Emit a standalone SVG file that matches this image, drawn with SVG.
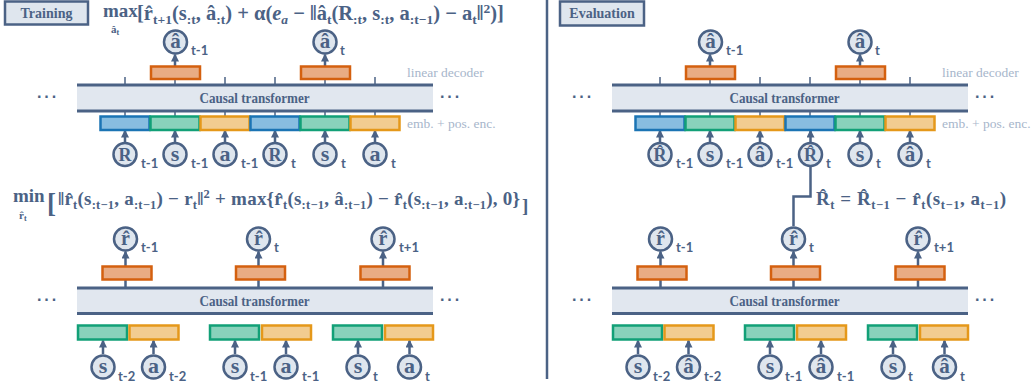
<svg xmlns="http://www.w3.org/2000/svg" width="1034" height="389" viewBox="0 0 1034 389">
<defs>
<marker id="ah" markerUnits="userSpaceOnUse" markerWidth="8" markerHeight="8" refX="7" refY="4" orient="auto"><path d="M0,0 L8,4 L0,8 z" fill="#4b6285"/></marker>
<style>
.ln{stroke:#4b6285;stroke-width:2.5;fill:none}
.ar{stroke:#4b6285;stroke-width:2.5;fill:none;marker-end:url(#ah)}
.thin{stroke:#4b6285;stroke-width:1.5}
.cir{fill:#dfe6ee;stroke:#4b6285;stroke-width:2.5}
.v{font-family:"Liberation Serif","DejaVu Serif",serif;font-weight:bold;fill:#4b6285;text-anchor:middle}
.sub{font-family:Lato,"Liberation Sans",sans-serif;font-weight:bold;font-size:13px;fill:#4b6285}
.dec{fill:#e9ac84;stroke:#d4600f;stroke-width:2.5}
.eR{fill:#88bde0;stroke:#1b74b4;stroke-width:2.5}
.eS{fill:#89d2bb;stroke:#12a077;stroke-width:2.5}
.eA{fill:#f2cc90;stroke:#e5981a;stroke-width:2.5}
.tf{fill:#e1e7ef}
.tfl{stroke:#4b6285;stroke-width:3}
.tft{font-family:"Liberation Serif","DejaVu Serif",serif;font-weight:bold;font-size:14.5px;fill:#4b6285;text-anchor:middle}
.note{font-family:"Liberation Serif","DejaVu Serif",serif;font-size:13.5px;fill:#a7b6cb}
.dots{font-family:"Liberation Sans",sans-serif;font-weight:bold;font-size:16px;fill:#4b6285;letter-spacing:2px}
.m{font-family:"Liberation Serif","DejaVu Serif",serif;font-weight:bold;font-size:19px;fill:#4b6285}
.ms{font-size:12.5px}
.mb{font-size:20.5px}
.mbs{font-size:13.5px}
.tag{fill:#dfe6ee;stroke:#4b6285;stroke-width:2.5}
.tagt{font-family:"Liberation Serif","DejaVu Serif",serif;font-weight:bold;font-size:14px;fill:#4b6285;text-anchor:middle}
</style>
</defs>

<line id="divider" x1="547" y1="0" x2="547" y2="379" class="ln" stroke-width="2"/>

<!-- connectors -->
<g id="connectors">
  <g class="thin">
    <line x1="125" y1="77" x2="125" y2="117"/><line x1="175" y1="77" x2="175" y2="117"/><line x1="225" y1="77" x2="225" y2="117"/>
    <line x1="275" y1="77" x2="275" y2="117"/><line x1="325" y1="77" x2="325" y2="117"/><line x1="375" y1="77" x2="375" y2="117"/>
    <line x1="660" y1="77" x2="660" y2="117"/><line x1="710" y1="77" x2="710" y2="117"/><line x1="760" y1="77" x2="760" y2="117"/>
    <line x1="810" y1="77" x2="810" y2="117"/><line x1="860" y1="77" x2="860" y2="117"/><line x1="910" y1="77" x2="910" y2="117"/>
  </g>
  <line class="ar" x1="175" y1="66" x2="175" y2="54.5"/>
  <line class="ar" x1="325" y1="66" x2="325" y2="54.5"/>
  <line class="ar" x1="710" y1="66" x2="710" y2="54.5"/>
  <line class="ar" x1="860" y1="66" x2="860" y2="54.5"/>
  <line class="ar" x1="125" y1="142" x2="125" y2="130.5"/><line class="ar" x1="175" y1="142" x2="175" y2="130.5"/><line class="ar" x1="225" y1="142" x2="225" y2="130.5"/>
  <line class="ar" x1="275" y1="142" x2="275" y2="130.5"/><line class="ar" x1="325" y1="142" x2="325" y2="130.5"/><line class="ar" x1="375" y1="142" x2="375" y2="130.5"/>
  <line class="ar" x1="660" y1="142" x2="660" y2="130.5"/><line class="ar" x1="710" y1="142" x2="710" y2="130.5"/><line class="ar" x1="760" y1="142" x2="760" y2="130.5"/>
  <line class="ar" x1="860" y1="142" x2="860" y2="130.5"/><line class="ar" x1="910" y1="142" x2="910" y2="130.5"/>
  <path class="ar" d="M793.5,226 V196.5 H810.5 V130.5"/>
  <g class="ln">
    <line x1="125.5" y1="279" x2="125.5" y2="288"/><line x1="258.5" y1="279" x2="258.5" y2="288"/><line x1="383" y1="279" x2="383" y2="288"/>
    <line x1="660.5" y1="279" x2="660.5" y2="288"/><line x1="793.5" y1="279" x2="793.5" y2="288"/><line x1="918" y1="279" x2="918" y2="288"/>
  </g>
  <line class="ar" x1="125.5" y1="266" x2="125.5" y2="251.5"/><line class="ar" x1="258.5" y1="266" x2="258.5" y2="251.5"/><line class="ar" x1="383" y1="266" x2="383" y2="251.5"/>
  <line class="ar" x1="660.5" y1="266" x2="660.5" y2="251.5"/><line class="ar" x1="793.5" y1="266" x2="793.5" y2="251.5"/><line class="ar" x1="918" y1="266" x2="918" y2="251.5"/>
  <line class="ar" x1="103" y1="354" x2="103" y2="340.5"/><line class="ar" x1="153.5" y1="354" x2="153.5" y2="340.5"/>
  <line class="ar" x1="235" y1="354" x2="235" y2="340.5"/><line class="ar" x1="286" y1="354" x2="286" y2="340.5"/>
  <line class="ar" x1="358" y1="354" x2="358" y2="340.5"/><line class="ar" x1="409.5" y1="354" x2="409.5" y2="340.5"/>
  <line class="ar" x1="638" y1="354" x2="638" y2="340.5"/><line class="ar" x1="688.5" y1="354" x2="688.5" y2="340.5"/>
  <line class="ar" x1="770" y1="354" x2="770" y2="340.5"/><line class="ar" x1="821" y1="354" x2="821" y2="340.5"/>
  <line class="ar" x1="893" y1="354" x2="893" y2="340.5"/><line class="ar" x1="944.5" y1="354" x2="944.5" y2="340.5"/>
</g>

<g id="tag-training"><rect class="tag" x="5" y="1.5" width="83" height="23"/><text class="tagt" x="46.5" y="18">Training</text></g>
<g id="tag-evaluation"><rect class="tag" x="560" y="1.5" width="84" height="24"/><text class="tagt" x="602" y="18">Evaluation</text></g>

<g id="tf-left-top"><rect class="tf" x="77" y="85" width="356" height="26"/><line class="tfl" x1="77" y1="85" x2="433" y2="85"/><line class="tfl" x1="77" y1="111" x2="433" y2="111"/><text class="tft" x="254.5" y="103" textLength="110" lengthAdjust="spacingAndGlyphs">Causal transformer</text></g>
<g id="tf-right-top"><rect class="tf" x="612" y="85" width="356" height="26"/><line class="tfl" x1="612" y1="85" x2="968" y2="85"/><line class="tfl" x1="612" y1="111" x2="968" y2="111"/><text class="tft" x="784.5" y="103" textLength="110" lengthAdjust="spacingAndGlyphs">Causal transformer</text></g>
<g id="tf-left-bot"><rect class="tf" x="77" y="288" width="356" height="26"/><line class="tfl" x1="77" y1="288" x2="433" y2="288"/><line class="tfl" x1="77" y1="313.5" x2="433" y2="313.5"/><text class="tft" x="254.5" y="306" textLength="110" lengthAdjust="spacingAndGlyphs">Causal transformer</text></g>
<g id="tf-right-bot"><rect class="tf" x="612" y="288" width="356" height="26"/><line class="tfl" x1="612" y1="288" x2="968" y2="288"/><line class="tfl" x1="612" y1="313.5" x2="968" y2="313.5"/><text class="tft" x="784.5" y="306" textLength="110" lengthAdjust="spacingAndGlyphs">Causal transformer</text></g>

<g id="dots">
<text class="dots" x="37" y="102">···</text><text class="dots" x="440" y="102">···</text>
<text class="dots" x="572" y="102">···</text><text class="dots" x="975" y="102">···</text>
<text class="dots" x="37" y="305">···</text><text class="dots" x="440" y="305">···</text>
<text class="dots" x="572" y="305">···</text><text class="dots" x="975" y="305">···</text>
</g>

<g id="labels">
<text class="note" x="407" y="77">linear decoder</text>
<text class="note" x="942" y="77">linear decoder</text>
<text class="note" x="407" y="128">emb. + pos. enc.</text>
<text class="note" x="942" y="128">emb. + pos. enc.</text>
</g>

<g id="decoders">
<rect class="dec" x="151" y="66.5" width="49" height="12.5"/><rect class="dec" x="301" y="66.5" width="49" height="12.5"/>
<rect class="dec" x="686" y="66.5" width="49" height="12.5"/><rect class="dec" x="836" y="66.5" width="49" height="12.5"/>
<rect class="dec" x="102.5" y="266.5" width="49" height="13"/><rect class="dec" x="236" y="266.5" width="49" height="13"/><rect class="dec" x="360.5" y="266.5" width="49" height="13"/>
<rect class="dec" x="637.5" y="266.5" width="49" height="13"/><rect class="dec" x="771" y="266.5" width="49" height="13"/><rect class="dec" x="895.5" y="266.5" width="49" height="13"/>
</g>

<g id="emb-top">
<rect class="eR" x="100.5" y="116.5" width="49" height="13.5"/><rect class="eS" x="150.5" y="116.5" width="49" height="13.5"/><rect class="eA" x="200.5" y="116.5" width="49" height="13.5"/>
<rect class="eR" x="250.5" y="116.5" width="49" height="13.5"/><rect class="eS" x="300.5" y="116.5" width="49" height="13.5"/><rect class="eA" x="350.5" y="116.5" width="49" height="13.5"/>
<rect class="eR" x="635.5" y="116.5" width="49" height="13.5"/><rect class="eS" x="685.5" y="116.5" width="49" height="13.5"/><rect class="eA" x="735.5" y="116.5" width="49" height="13.5"/>
<rect class="eR" x="785.5" y="116.5" width="49" height="13.5"/><rect class="eS" x="835.5" y="116.5" width="49" height="13.5"/><rect class="eA" x="885.5" y="116.5" width="49" height="13.5"/>
</g>
<g id="emb-bot">
<rect class="eS" x="78" y="325.5" width="49" height="14"/><rect class="eA" x="129.5" y="325.5" width="49" height="14"/>
<rect class="eS" x="210" y="325.5" width="49" height="14"/><rect class="eA" x="262" y="325.5" width="49" height="14"/>
<rect class="eS" x="333" y="325.5" width="49" height="14"/><rect class="eA" x="385" y="325.5" width="48" height="14"/>
<rect class="eS" x="613" y="325.5" width="49" height="14"/><rect class="eA" x="664.5" y="325.5" width="49" height="14"/>
<rect class="eS" x="745" y="325.5" width="49" height="14"/><rect class="eA" x="797" y="325.5" width="49" height="14"/>
<rect class="eS" x="868" y="325.5" width="49" height="14"/><rect class="eA" x="920" y="325.5" width="48" height="14"/>
</g>

<g id="out-ahat-tm1-L"><circle class="cir" cx="175.5" cy="42" r="11.5"/><text class="v" x="175.5" y="48" font-size="21">â</text><text class="sub" x="191" y="55">t-1</text></g>
<g id="out-ahat-t-L"><circle class="cir" cx="325" cy="42" r="11.5"/><text class="v" x="325" y="48" font-size="21">â</text><text class="sub" x="340" y="55">t</text></g>
<g id="out-ahat-tm1-R"><circle class="cir" cx="710.5" cy="42" r="11.5"/><text class="v" x="710.5" y="48" font-size="21">â</text><text class="sub" x="726" y="55">t-1</text></g>
<g id="out-ahat-t-R"><circle class="cir" cx="860" cy="42" r="11.5"/><text class="v" x="860" y="48" font-size="21">â</text><text class="sub" x="875" y="55">t</text></g>

<g id="in-R-tm1-L"><circle class="cir" cx="125" cy="154.5" r="11.5"/><text class="v" x="125" y="160.5" font-size="18">R</text><text class="sub" x="141" y="168">t-1</text></g>
<g id="in-s-tm1-L"><circle class="cir" cx="175" cy="154.5" r="11.5"/><text class="v" x="175" y="160.5" font-size="22">s</text><text class="sub" x="191" y="168">t-1</text></g>
<g id="in-a-tm1-L"><circle class="cir" cx="225" cy="154.5" r="11.5"/><text class="v" x="225" y="160.5" font-size="22">a</text><text class="sub" x="241" y="168">t-1</text></g>
<g id="in-R-t-L"><circle class="cir" cx="275" cy="154.5" r="11.5"/><text class="v" x="275" y="160.5" font-size="18">R</text><text class="sub" x="291" y="168">t</text></g>
<g id="in-s-t-L"><circle class="cir" cx="325" cy="154.5" r="11.5"/><text class="v" x="325" y="160.5" font-size="22">s</text><text class="sub" x="341" y="168">t</text></g>
<g id="in-a-t-L"><circle class="cir" cx="375" cy="154.5" r="11.5"/><text class="v" x="375" y="160.5" font-size="22">a</text><text class="sub" x="391" y="168">t</text></g>

<g id="in-Rhat-tm1-R"><circle class="cir" cx="660" cy="154.5" r="11.5"/><text class="v" x="660" y="160.5" font-size="18">R̂</text><text class="sub" x="676" y="168">t-1</text></g>
<g id="in-s-tm1-R"><circle class="cir" cx="710" cy="154.5" r="11.5"/><text class="v" x="710" y="160.5" font-size="22">s</text><text class="sub" x="726" y="168">t-1</text></g>
<g id="in-ahat-tm1-R"><circle class="cir" cx="760" cy="154.5" r="11.5"/><text class="v" x="760" y="160.5" font-size="21">â</text><text class="sub" x="776" y="168">t-1</text></g>
<g id="in-Rhat-t-R"><circle class="cir" cx="810.5" cy="154.5" r="11.5"/><text class="v" x="810.5" y="160.5" font-size="18">R̂</text><text class="sub" x="826" y="168">t</text></g>
<g id="in-s-t-R"><circle class="cir" cx="860" cy="154.5" r="11.5"/><text class="v" x="860" y="160.5" font-size="22">s</text><text class="sub" x="876" y="168">t</text></g>
<g id="in-ahat-t-R"><circle class="cir" cx="910" cy="154.5" r="11.5"/><text class="v" x="910" y="160.5" font-size="21">â</text><text class="sub" x="926" y="168">t</text></g>

<g id="out-rhat-tm1-L"><circle class="cir" cx="125.5" cy="239" r="11.5"/><text class="v" x="125.5" y="245" font-size="20">r̂</text><text class="sub" x="141" y="252">t-1</text></g>
<g id="out-rhat-t-L"><circle class="cir" cx="258.5" cy="239" r="11.5"/><text class="v" x="258.5" y="245" font-size="20">r̂</text><text class="sub" x="274" y="252">t</text></g>
<g id="out-rhat-tp1-L"><circle class="cir" cx="383" cy="239" r="11.5"/><text class="v" x="383" y="245" font-size="20">r̂</text><text class="sub" x="399" y="252">t+1</text></g>
<g id="out-rhat-tm1-R"><circle class="cir" cx="660.5" cy="239" r="11.5"/><text class="v" x="660.5" y="245" font-size="20">r̂</text><text class="sub" x="676" y="252">t-1</text></g>
<g id="out-rhat-t-R"><circle class="cir" cx="793.5" cy="239" r="11.5"/><text class="v" x="793.5" y="245" font-size="20">r̂</text><text class="sub" x="809" y="252">t</text></g>
<g id="out-rhat-tp1-R"><circle class="cir" cx="918" cy="239" r="11.5"/><text class="v" x="918" y="245" font-size="20">r̂</text><text class="sub" x="934" y="252">t+1</text></g>

<g id="in-s-tm2-L"><circle class="cir" cx="103" cy="367" r="11.5"/><text class="v" x="103" y="373" font-size="22">s</text><text class="sub" x="118" y="381">t-2</text></g>
<g id="in-a-tm2-L"><circle class="cir" cx="153.5" cy="367" r="11.5"/><text class="v" x="153.5" y="373" font-size="22">a</text><text class="sub" x="169" y="381">t-2</text></g>
<g id="in-s-tm1b-L"><circle class="cir" cx="235" cy="367" r="11.5"/><text class="v" x="235" y="373" font-size="22">s</text><text class="sub" x="250" y="381">t-1</text></g>
<g id="in-a-tm1b-L"><circle class="cir" cx="286" cy="367" r="11.5"/><text class="v" x="286" y="373" font-size="22">a</text><text class="sub" x="302" y="381">t-1</text></g>
<g id="in-s-tb-L"><circle class="cir" cx="358" cy="367" r="11.5"/><text class="v" x="358" y="373" font-size="22">s</text><text class="sub" x="373" y="381">t</text></g>
<g id="in-a-tb-L"><circle class="cir" cx="409.5" cy="367" r="11.5"/><text class="v" x="409.5" y="373" font-size="22">a</text><text class="sub" x="425" y="381">t</text></g>
<g id="in-s-tm2-R"><circle class="cir" cx="638" cy="367" r="11.5"/><text class="v" x="638" y="373" font-size="22">s</text><text class="sub" x="653" y="381">t-2</text></g>
<g id="in-ahat-tm2-R"><circle class="cir" cx="688.5" cy="367" r="11.5"/><text class="v" x="688.5" y="373" font-size="21">â</text><text class="sub" x="704" y="381">t-2</text></g>
<g id="in-s-tm1b-R"><circle class="cir" cx="770" cy="367" r="11.5"/><text class="v" x="770" y="373" font-size="22">s</text><text class="sub" x="785" y="381">t-1</text></g>
<g id="in-ahat-tm1b-R"><circle class="cir" cx="821" cy="367" r="11.5"/><text class="v" x="821" y="373" font-size="21">â</text><text class="sub" x="837" y="381">t-1</text></g>
<g id="in-s-tb-R"><circle class="cir" cx="893" cy="367" r="11.5"/><text class="v" x="893" y="373" font-size="22">s</text><text class="sub" x="908" y="381">t</text></g>
<g id="in-ahat-tb-R"><circle class="cir" cx="944.5" cy="367" r="11.5"/><text class="v" x="944.5" y="373" font-size="21">â</text><text class="sub" x="960" y="381">t</text></g>

<g id="formula-top">
<text class="m" x="103" y="17" font-size="16">max<tspan x="111" y="33" font-size="11">â</tspan><tspan dy="2" font-size="8">t</tspan><tspan class="mb" x="137" y="20">[r̂</tspan><tspan class="mbs" dy="4">t+1</tspan><tspan class="mb" dy="-4">(s</tspan><tspan class="mbs" dy="4">:t</tspan><tspan class="mb" dy="-4">, â</tspan><tspan class="mbs" dy="4">:t</tspan><tspan class="mb" dy="-4">) + α(</tspan><tspan class="mb" font-style="italic">e</tspan><tspan class="mbs" font-style="italic" dy="4">a</tspan><tspan class="mb" dy="-4"> − ‖â</tspan><tspan class="mbs" dy="4">t</tspan><tspan class="mb" dy="-4">(R</tspan><tspan class="mbs" dy="4">:t</tspan><tspan class="mb" dy="-4">, s</tspan><tspan class="mbs" dy="4">:t</tspan><tspan class="mb" dy="-4">, a</tspan><tspan class="mbs" dy="4">:t−1</tspan><tspan class="mb" dy="-4">) − a</tspan><tspan class="mbs" dy="4">t</tspan><tspan class="mb" dy="-4">‖</tspan><tspan class="mbs" dy="-7">2</tspan><tspan class="mb" dy="7">)]</tspan></text>
</g>
<g id="formula-bottom">
<text class="m" x="13" y="202" font-size="16">min<tspan x="19" y="219" font-size="11">r̂</tspan><tspan dy="2" font-size="8">t</tspan><tspan x="47" y="212" font-size="27">[</tspan></text>
<text class="m" x="58" y="205" textLength="462" lengthAdjust="spacing">‖r̂<tspan class="ms" dy="4">t</tspan><tspan dy="-4">(s</tspan><tspan class="ms" dy="4">:t−1</tspan><tspan dy="-4">, a</tspan><tspan class="ms" dy="4">:t−1</tspan><tspan dy="-4">) − r</tspan><tspan class="ms" dy="4">t</tspan><tspan dy="-4">‖</tspan><tspan class="ms" dy="-7">2</tspan><tspan dy="7"> + max{r̂</tspan><tspan class="ms" dy="4">t</tspan><tspan dy="-4">(s</tspan><tspan class="ms" dy="4">:t−1</tspan><tspan dy="-4">, â</tspan><tspan class="ms" dy="4">:t−1</tspan><tspan dy="-4">) − r̂</tspan><tspan class="ms" dy="4">t</tspan><tspan dy="-4">(s</tspan><tspan class="ms" dy="4">:t−1</tspan><tspan dy="-4">, a</tspan><tspan class="ms" dy="4">:t−1</tspan><tspan dy="-4">), 0}</tspan></text>
<text class="m" x="522" y="212" font-size="27">]</text>
</g>
<g id="formula-right">
<text class="m" x="816" y="205" textLength="190" lengthAdjust="spacing">R̂<tspan class="ms" dy="4">t</tspan><tspan dy="-4"> = R̂</tspan><tspan class="ms" dy="4">t−1</tspan><tspan dy="-4"> − r̂</tspan><tspan class="ms" dy="4">t</tspan><tspan dy="-4">(s</tspan><tspan class="ms" dy="4">t−1</tspan><tspan dy="-4">, a</tspan><tspan class="ms" dy="4">t−1</tspan><tspan dy="-4">)</tspan></text>
</g>
</svg>
